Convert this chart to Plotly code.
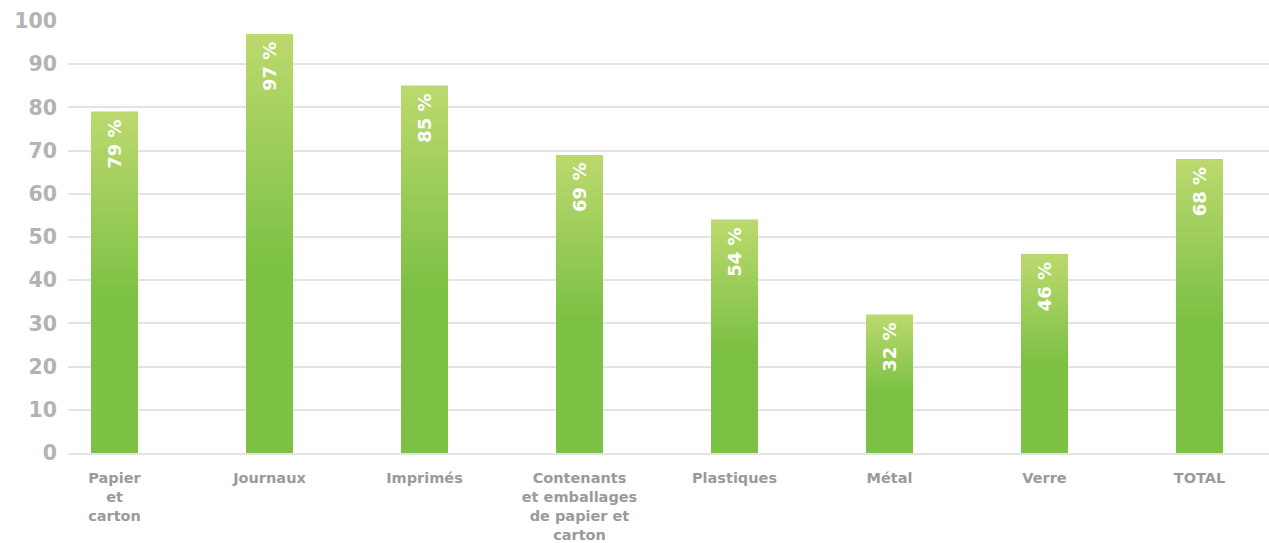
import plotly.graph_objects as go

# Taux de récupération par catégorie de matières
categories = ["Papier<br>et<br>carton", "Journaux", "Imprimés",
              "Contenants<br>et emballages<br>de papier et<br>carton",
              "Plastiques", "Métal", "Verre", "TOTAL"]
values = [79, 97, 85, 69, 54, 32, 46, 68]
labels = [f"{v} %" for v in values]
y_ticks = [0, 10, 20, 30, 40, 50, 60, 70, 80, 90, 100]

TOP_COLOR = "rgb(188,217,110)"
BASE_COLOR = "rgb(124,193,68)"
GRAD_FRACTION = 0.55   # upper part of each bar that fades to the light tint
FONT = "DejaVu Sans"

# horizontal scale chosen so bar edges fall on whole pixels
PLOT_W = 1269 - 68
PX_PER_CAT = 155
BAR_W = 47 / PX_PER_CAT
X_RANGE = [-0.3, -0.3 + PLOT_W / PX_PER_CAT]

x_idx = list(range(len(categories)))

fig = go.Figure()

# the bars themselves, in the solid base green
fig.add_trace(go.Bar(
    x=x_idx, y=values, width=BAR_W,
    marker=dict(color=BASE_COLOR, line=dict(width=0)),
    hoverinfo="skip", showlegend=False,
))

# light-to-green vertical fade laid over the upper part of each bar
for xi, v in zip(x_idx, values):
    lo = v * (1 - GRAD_FRACTION)
    x0, x1 = xi - BAR_W / 2, xi + BAR_W / 2
    fig.add_trace(go.Scatter(
        x=[x0, x1, x1, x0, x0], y=[lo, lo, v, v, lo],
        mode="lines", line=dict(width=0), fill="toself",
        fillgradient=dict(type="vertical", start=lo, stop=v,
                          colorscale=[[0, BASE_COLOR], [1, TOP_COLOR]]),
        hoverinfo="skip", showlegend=False,
    ))

# value labels, written vertically just under the top of each bar
for xi, v, lab in zip(x_idx, values, labels):
    fig.add_annotation(
        x=xi, y=v, text=lab, showarrow=False, textangle=-90,
        yanchor="top", yshift=-6,
        font=dict(family=FONT, size=18, color="white", weight="bold"),
    )

fig.update_layout(
    width=1269, height=543,
    margin=dict(l=68, r=0, t=21, b=90),
    barmode="overlay",
    plot_bgcolor="white", paper_bgcolor="white",
    xaxis=dict(
        range=X_RANGE, automargin=False,
        tickmode="array", tickvals=x_idx, ticktext=categories,
        showgrid=False, zeroline=False,
        showline=True, linecolor="#e3e3e3", linewidth=2,
        ticks="", ticklabelstandoff=11,
        tickfont=dict(family=FONT, size=14.5, color="#9a9a9e", weight="bold"),
    ),
    yaxis=dict(
        range=[0, 100], tickvals=y_ticks, automargin=False,
        showgrid=True, gridcolor="#e3e3e3", gridwidth=1.5,
        zeroline=False, showline=False, ticks="",
        ticklabelstandoff=10,
        tickfont=dict(family=FONT, size=20.5, color="#b3b3b3", weight="bold"),
    ),
)

fig.write_html("out.html")
